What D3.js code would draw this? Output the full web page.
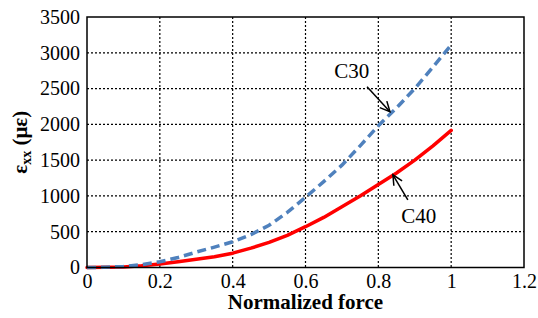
<!DOCTYPE html>
<html><head><meta charset="utf-8">
<script src="https://cdn.jsdelivr.net/npm/d3@7"></script>
<style>body{margin:0;background:#fff}svg{display:block}svg text{font-family:"Liberation Serif","Times New Roman",Times,serif}</style>
</head><body>
<script>
const forceX = [0,0.05,0.1,0.15,0.2,0.25,0.3,0.35,0.4,0.45,0.5,0.55,0.6,0.65,0.7,0.75,0.8,0.85,0.9,0.95,1.0];
const c30 = [0,3,15,40,80,140,215,285,360,460,590,770,980,1200,1430,1700,1980,2230,2500,2800,3110];
const c40 = [0,2,8,25,48,80,115,150,200,270,350,450,570,700,850,1000,1160,1320,1500,1700,1915];
const xTicks = [0,0.2,0.4,0.6,0.8,1,1.2];
const yTicks = [0,500,1000,1500,2000,2500,3000,3500];
const xTickLabels = ["0","0.2","0.4","0.6","0.8","1","1.2"];
const yTickLabels = ["0","500","1000","1500","2000","2500","3000","3500"];
const annotations = [
  {label:"C30", lx:0.727, ly:2653, tail:[0.769,2527], tip:[0.832,2177]},
  {label:"C40", lx:0.911, ly:623, tail:[0.881,945], tip:[0.84,1295]}
];

const W=538,H=318;
const L=87,R=524,T=17,B=267.5;
const svg=d3.select("body").append("svg").attr("width",W).attr("height",H);
const x=d3.scaleLinear().domain([0,1.2]).range([L,R]);
const y=d3.scaleLinear().domain([0,3500]).range([B,T]);
const serif='"Liberation Serif","Times New Roman",Times,serif';

// gridlines
const g=svg.append("g");
g.selectAll(".vg").data(xTicks.slice(1,-1)).enter().append("line")
 .attr("x1",d=>x(d)).attr("x2",d=>x(d)).attr("y1",T).attr("y2",B)
 .attr("stroke","#000").attr("stroke-width",1.2).attr("stroke-dasharray","2,2");
g.selectAll(".hg").data(yTicks.slice(1,-1)).enter().append("line")
 .attr("y1",d=>y(d)).attr("y2",d=>y(d)).attr("x1",L).attr("x2",R)
 .attr("stroke","#000").attr("stroke-width",1.2).attr("stroke-dasharray","2,2");

// axes with labels
const xAxis=d3.axisBottom(x).tickValues(xTicks).tickSize(0).tickPadding(6).tickFormat((d,i)=>xTickLabels[i]);
const xa=svg.append("g").attr("transform",`translate(0,${B})`).call(xAxis).attr("font-family",null);
xa.select(".domain").remove();
xa.selectAll("text").style("font-family",serif).style("font-size","20px").attr("fill","#000");
const yAxis=d3.axisLeft(y).tickValues(yTicks).tickSize(0).tickPadding(7).tickFormat((d,i)=>yTickLabels[i]);
const ya=svg.append("g").attr("transform",`translate(${L},0)`).call(yAxis).attr("font-family",null);
ya.select(".domain").remove();
ya.selectAll("text").style("font-family",serif).style("font-size","20px").attr("fill","#000");

// lines
const line=d3.line().x((d,i)=>x(forceX[i])).y(d=>y(d));
svg.append("path").datum(c40).attr("d",line).attr("fill","none")
 .attr("stroke","#FF0000").attr("stroke-width",3.5).attr("stroke-linejoin","round").attr("stroke-linecap","round");
svg.append("path").datum(c30).attr("d",line).attr("fill","none")
 .attr("stroke","#4F81BD").attr("stroke-width",3.5).attr("stroke-dasharray","9,5");

// border
svg.append("rect").attr("x",L).attr("y",T).attr("width",R-L).attr("height",B-T)
 .attr("fill","none").attr("stroke","#000").attr("stroke-width",1.5);

// annotations
annotations.forEach(a=>{
  svg.append("text").attr("x",x(a.lx)).attr("y",y(a.ly)).attr("text-anchor","middle")
   .style("font-family",serif).style("font-size","21px").attr("fill","#000").text(a.label);
  const x1=x(a.tail[0]),y1=y(a.tail[1]),x2=x(a.tip[0]),y2=y(a.tip[1]);
  svg.append("line").attr("x1",x1).attr("y1",y1).attr("x2",x2).attr("y2",y2)
   .attr("stroke","#000").attr("stroke-width",1.5);
  const ang=Math.atan2(y1-y2,x1-x2), hl=11, spread=0.45;
  const p=[[x2+hl*Math.cos(ang+spread),y2+hl*Math.sin(ang+spread)],[x2,y2],[x2+hl*Math.cos(ang-spread),y2+hl*Math.sin(ang-spread)]];
  svg.append("path").attr("d",d3.line()(p)).attr("fill","none").attr("stroke","#000").attr("stroke-width",1.5);
});

// axis titles
svg.append("text").attr("x",(L+R)/2).attr("y",309).attr("text-anchor","middle")
 .style("font-family",serif).style("font-size","21px").attr("font-weight","bold").attr("fill","#000")
 .text("Normalized force");
const yt=svg.append("text").attr("transform",`translate(27,${(T+B)/2}) rotate(-90)`).attr("text-anchor","middle")
 .style("font-family",serif).style("font-size","21px").attr("font-weight","bold").attr("fill","#000");
yt.append("tspan").text("ε");
yt.append("tspan").style("font-size","14px").attr("dy",4).text("xx");
yt.append("tspan").attr("dy",-4).text(" (με)");
</script>
</body></html>
